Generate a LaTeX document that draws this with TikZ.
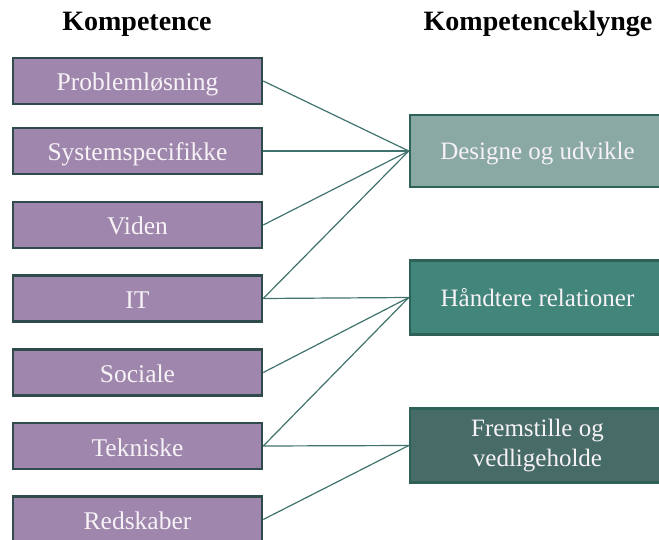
\documentclass[tikz,border=0pt]{standalone}
\usepackage{fontspec}
\setmainfont{Liberation Serif}
\usetikzlibrary{positioning}

\definecolor{lilla}{HTML}{9E86AC}
\definecolor{kant}{HTML}{2F4B4B}
\definecolor{klyngekant}{HTML}{2E6259}
\definecolor{lysgroen}{HTML}{8BA9A4}
\definecolor{mellemgroen}{HTML}{42857B}
\definecolor{moerkgroen}{HTML}{476B66}
\definecolor{linje}{HTML}{40736D}
\definecolor{tekst}{HTML}{F6F2F6}

\tikzset{
  kompboks/.style={draw=kant, line width=2.5pt, fill=lilla, text=tekst,
    minimum width=249pt, minimum height=46pt, inner sep=0pt,
    text height=20pt, text depth=0pt,
    font=\fontsize{25.5}{29}\selectfont},
  klyngeboks/.style={draw=klyngekant, line width=2.5pt, text=tekst,
    minimum width=255pt, minimum height=72pt, inner sep=0pt, align=center,
    font=\fontsize{25}{30}\selectfont},
  enlinje/.style={text height=18pt, text depth=0pt},
  overskrift/.style={font=\fontsize{28}{32}\selectfont\bfseries},
  forbindelse/.style={draw=linje, line width=1.2pt}
}

\begin{document}
\begin{tikzpicture}[x=1pt, y=-1pt]
        \useasboundingbox (0,0) rectangle (659,540);
        \clip (0,0) rectangle (659,540);

        % overskrifter
        \node[overskrift] (tk) at (137,24) {Kompetence};
        \node[overskrift] (tkk) at (538,24) {Kompetenceklynge};

        % kompetencer
        \node[kompboks] (problem) at (137.5,81) {Problemløsning};
        \node[kompboks] (system) at (137.5,151) {Systemspecifikke};
        \node[kompboks] (viden) at (137.5,225) {Viden};
        \node[kompboks] (it) at (137.5,298.5) {IT};
        \node[kompboks] (sociale) at (137.5,372.5) {Sociale};
        \node[kompboks] (tekniske) at (137.5,446) {Tekniske};
        \node[kompboks] (redskaber) at (137.5,519.5) {Redskaber};

        % klynger
        \node[klyngeboks, enlinje, fill=lysgroen] (designe) at (537.5,151) {Designe og udvikle};
        \node[klyngeboks, enlinje, fill=mellemgroen, minimum height=74pt] (relationer) at (537.5,297.5) {Håndtere relationer};
        \node[klyngeboks, fill=moerkgroen, minimum height=74pt] (fremstille) at (537.5,445.5) {Fremstille og\\vedligeholde};

        \foreach \k in {problem, system, viden, it}
            \draw[forbindelse] (\k.east) -- (designe.west);
        \foreach \k in {it, sociale, tekniske}
            \draw[forbindelse] (\k.east) -- (relationer.west);
        \foreach \k in {tekniske, redskaber}
            \draw[forbindelse] (\k.east) -- (fremstille.west);
\end{tikzpicture}
\end{document}
